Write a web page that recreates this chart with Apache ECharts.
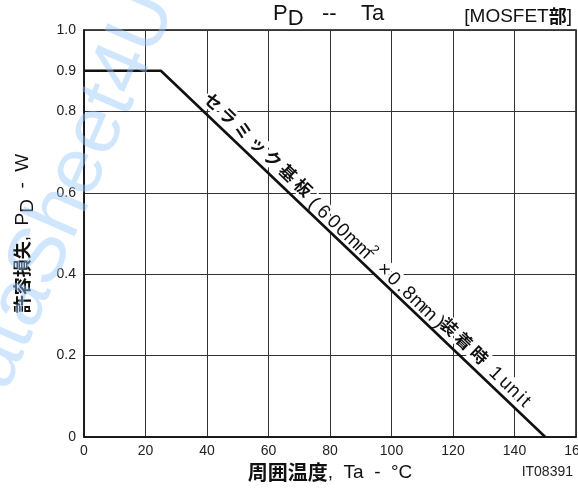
<!DOCTYPE html>
<html><head><meta charset="utf-8">
<script src="https://cdn.jsdelivr.net/npm/echarts@6.0.0/dist/echarts.min.js"></script>
<style>html,body{margin:0;padding:0;background:#fff}#c{width:578px;height:494px}</style>
</head><body><div id="c"></div>
<script>
// ---- data ----
const temps = [0, 25, 150];          // Ta (°C)
const pd = [0.9, 0.9, 0];            // PD (W)
const xMin = 0, xMax = 160, xStep = 20;
const yLabelValues = [0, 0.2, 0.4, 0.6, 0.8, 0.9, 1.0];
const yLabelTexts = ['0', '0.2', '0.4', '0.6', '0.8', '0.9', '1.0'];
const titleMain = 'P';
const titleSub = 'D';
const titleRest = '   --    Ta';
const titleTag = '[MOSFET';
const titleTagCJK = '部';
const xNameCJK = '周囲温度';
const xNameRest = ',  Ta  -  °C';
const yNameCJK = '許容損失';
const yNameP = ',  P';
const yNameSub = 'D';
const yNameRest = '  -  W';
const figId = 'IT08391';
const watermark = 'DataSheet4U';
// annotation along the curve: [char, Ta position, style]
const noteChars = [
  ['セ',42.0,'b'],['ラ',46.9,'b'],['ミ',51.8,'b'],['ッ',56.7,'b'],['ク',61.5,'b'],['基',66.4,'b'],['板',71.3,'b'],
  ['(',74.6,'n'],['6',77.8,'n'],['0',81.1,'n'],['0',84.0,'n'],['m',87.3,'n'],['m',90.8,'n'],['2',94.4,'s'],
  ['×',97.5,'n'],['0',100.6,'n'],['.',103.3,'n'],['8',105.5,'n'],['m',108.7,'n'],['m',112.0,'n'],[')',115.5,'n'],
  ['装',118.8,'b'],['着',123.6,'b'],['時',128.6,'b'],
  ['1',133.8,'u'],['u',137.1,'u'],['n',139.7,'u'],['i',142.0,'u'],['t',143.6,'u']
];

const SANS = "'Liberation Sans', Arial, sans-serif";
const CJK = "'Noto Sans CJK JP', sans-serif";
const INK = '#111';

function near(a, b) { return Math.abs(a - b) < 1e-6; }
function labelFor(v) {
  for (let i = 0; i < yLabelValues.length; i++) if (near(v, yLabelValues[i])) return yLabelTexts[i];
  return '';
}
function onMajor(v) { return near(v / 0.2, Math.round(v / 0.2)); }

const chart = echarts.init(document.getElementById('c'));
const option = {
  animation: false,
  backgroundColor: '#fff',
  textStyle: { fontFamily: SANS },
  title: [
    { text: '{a|' + titleMain + '}{s|' + titleSub + '}{a|' + titleRest + '}', left: 268, top: -2,
      textStyle: { fontWeight: 'normal', rich: {
        a: { fontFamily: SANS, fontWeight: 'normal', fontSize: 22, color: INK, lineHeight: 25, verticalAlign: 'top' },
        s: { fontFamily: SANS, fontWeight: 'normal', fontSize: 22, color: INK, lineHeight: 25, padding: [5, 0, 0, 0], verticalAlign: 'top' }
      } } },
    { text: '{n|' + titleTag + '}{b|' + titleTagCJK + '}{n|]}', right: 1, top: 2,
      textStyle: { fontWeight: 'normal', rich: {
        n: { fontFamily: SANS, fontWeight: 'normal', fontSize: 19, color: INK },
        b: { fontFamily: CJK, fontWeight: 'bold', fontSize: 18, color: INK }
      } } }
  ],
  grid: { left: 84, right: 2, top: 30, bottom: 57, outerBoundsMode: 'none', containLabel: false,
          show: true, borderColor: INK, borderWidth: 1.5 },
  xAxis: {
    type: 'value', min: xMin, max: xMax, interval: xStep,
    name: '{b|' + xNameCJK + '}{n|' + xNameRest + '}', nameLocation: 'middle', nameGap: 22,
    nameTextStyle: { rich: {
      b: { fontFamily: CJK, fontWeight: 'bold', fontSize: 20, color: INK },
      n: { fontFamily: SANS, fontSize: 19, color: INK }
    } },
    axisLine: { lineStyle: { color: INK, width: 1.5 } },
    axisTick: { show: false },
    axisLabel: { fontSize: 14, color: '#222', margin: 7, fontFamily: SANS, hideOverlap: false },
    splitLine: { lineStyle: { color: '#333', width: 1 } }
  },
  yAxis: [
    { type: 'value', min: 0, max: 1, interval: 0.2,
      name: '{b|' + yNameCJK + '}{n|' + yNameP + '}{s|' + yNameSub + '}{n|' + yNameRest + '}',
      nameLocation: 'middle', nameGap: 50, nameRotate: 90,
      nameTextStyle: { rich: {
        b: { fontFamily: CJK, fontWeight: 'bold', fontSize: 18, color: INK, lineHeight: 21, verticalAlign: 'top' },
        n: { fontFamily: SANS, fontSize: 19, color: INK, lineHeight: 21, verticalAlign: 'top' },
        s: { fontFamily: SANS, fontSize: 19, color: INK, lineHeight: 21, padding: [5, 0, 0, 0], verticalAlign: 'top' }
      } },
      axisLine: { show: true, lineStyle: { color: INK, width: 1.5 } },
      axisTick: { show: false },
      axisLabel: { fontSize: 14, color: '#222', margin: 8, fontFamily: SANS, formatter: v => labelFor(v) },
      splitLine: { lineStyle: { color: '#333', width: 1 } }
    },
    { type: 'value', min: 0, max: 1, interval: 0.1, position: 'left',
      axisLine: { show: false }, axisTick: { show: false }, splitLine: { show: false },
      axisLabel: { fontSize: 14, color: '#222', margin: 8, fontFamily: SANS,
        formatter: v => onMajor(v) ? '' : labelFor(v) }
    }
  ],
  graphic: [
    { type: 'text', id: 'wm', x: 192, y: 12, rotation: 1.16, z: 60, silent: true,
      style: { text: watermark, fontFamily: SANS, fontSize: 80, fill: 'rgba(150,200,250,0.45)', align: 'right', verticalAlign: 'bottom' } },
    { type: 'text', id: 'fig', right: 5, top: 465, silent: true,
      style: { text: figId, fontFamily: SANS, fontSize: 14, fill: '#222' } }
  ],
  series: [{
    type: 'line', data: temps.map((t, i) => [t, pd[i]]), symbol: 'none', silent: true, z: 45,
    lineStyle: { color: INK, width: 2.6 }
  }]
};
chart.setOption(option);

function pdAt(t) {
  for (let i = 0; i < temps.length - 1; i++) {
    if (t >= temps[i] && t <= temps[i + 1]) return pd[i] + (pd[i + 1] - pd[i]) * (t - temps[i]) / (temps[i + 1] - temps[i]);
  }
  return 0;
}
const pa = chart.convertToPixel({ seriesIndex: 0 }, [temps[1], pd[1]]);
const pb = chart.convertToPixel({ seriesIndex: 0 }, [temps[2], pd[2]]);
const ang = Math.atan2(pb[1] - pa[1], pb[0] - pa[0]);
const noteStyles = {
  b: { fontFamily: CJK, fontWeight: 'bold', fontSize: 17, off: 19 },
  n: { fontFamily: SANS, fontWeight: 'normal', fontSize: 19, off: 13 },
  s: { fontFamily: SANS, fontWeight: 'normal', fontSize: 13, off: 24 },
  u: { fontFamily: SANS, fontWeight: 'normal', fontSize: 19, off: 16 }
};
const els = [];
noteChars.forEach((c, i) => {
  const st = noteStyles[c[2]];
  const p = chart.convertToPixel({ seriesIndex: 0 }, [c[1], pdAt(c[1])]);
  const common = { x: p[0], y: p[1] - st.off, rotation: -ang, silent: true };
  const font = { text: c[0], fontFamily: st.fontFamily, fontWeight: st.fontWeight, fontSize: st.fontSize, align: 'center', verticalAlign: 'middle' };
  els.push(Object.assign({ type: 'text', id: 'bg' + i, z: 40 }, common,
    { style: Object.assign({}, font, { fill: 'rgba(0,0,0,0)', backgroundColor: '#fff', padding: [1, 1] }) }));
  els.push(Object.assign({ type: 'text', id: 'tx' + i, z: 50 }, common,
    { style: Object.assign({}, font, { fill: INK }) }));
});
chart.setOption({ graphic: els });
</script>
</body></html>
